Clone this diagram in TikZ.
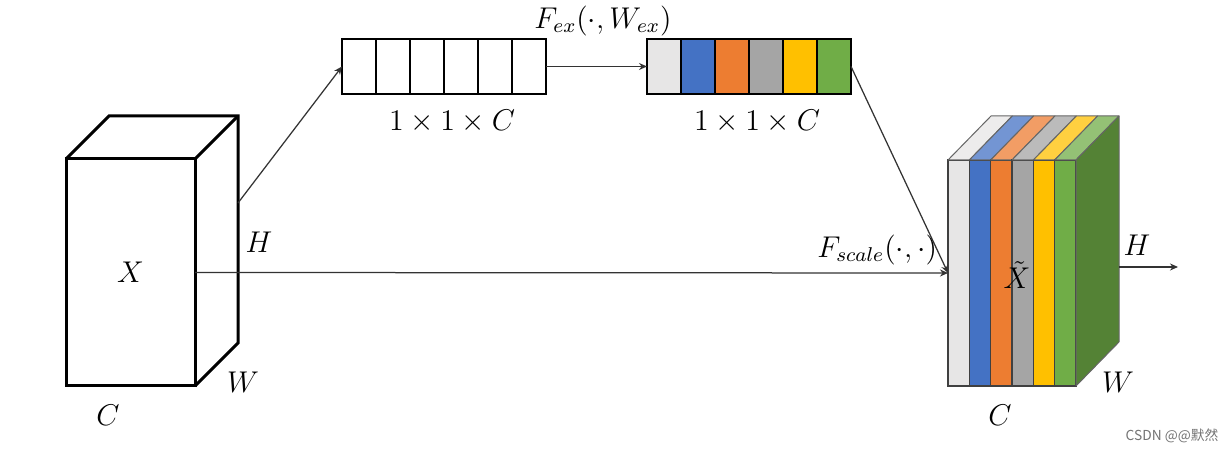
\documentclass[tikz,border=0pt]{standalone}
\usepackage{fontspec}
\newfontfamily\cjkfont{Noto Sans CJK SC}
\usepackage{tikz}
\usetikzlibrary{arrows.meta,positioning,calc}
\definecolor{chgray}{HTML}{E7E6E6}
\definecolor{chblue}{HTML}{4472C4}
\definecolor{chorange}{HTML}{ED7D31}
\definecolor{chdark}{HTML}{A5A5A5}
\definecolor{chgold}{HTML}{FFC000}
\definecolor{chgreen}{HTML}{70AD47}
\definecolor{chside}{HTML}{548235}
\tikzset{
  cube/.style={rectangle, draw=black, line width=1.2pt, outer sep=0pt,
    minimum width=51.6pt, minimum height=90.8pt, inner sep=0pt,
    font=\fontsize{12}{14}\selectfont},
  cell/.style={rectangle, draw=black, line width=1.1pt, outer sep=0pt,
    minimum width=13.6pt, minimum height=22pt, inner sep=0pt},
  strip/.style={rectangle, draw=black!75, line width=0.5pt, outer sep=0pt,
    minimum width=8.53pt, minimum height=90.4pt, inner sep=0pt},
  face/.style={draw=black!60, line width=0.4pt, line join=round},
  lbl/.style={font=\fontsize{12}{14}\selectfont, inner sep=1pt},
  flow/.style={-{Stealth[length=3.2pt, width=2.8pt]}, draw=black!80, line width=0.5pt},
}
\begin{document}
\begin{tikzpicture}[x=0.4pt, y=0.4pt]
  \useasboundingbox (0,0) rectangle (1230,451);
  \node[cube] (X) at (130.5,178.5) {$X$};
  \draw[line width=1.2pt] (X.north west) -- ++(43,43) -- ++(129,0) -- ++(0,-227) -- (X.south east);
  \draw[line width=1.2pt] (X.north east) -- ++(43,43);
  \node[lbl] (xh) at (259,209) {$H$};
  \node[lbl] (xw) at (243,69) {$W$};
  \node[lbl] (xc) at (108,36) {$C$};

  \foreach \i in {1,...,6}
    \node[cell] (e\i) at ({342+34*(\i-0.5)},384.5) {};
  \foreach \c [count=\i] in {chgray,chblue,chorange,chdark,chgold,chgreen}
    \node[cell, fill=\c] (s\i) at ({647+34*(\i-0.5)},384.5) {};
  \node[lbl] (eC) at (452,329) {$1\times1\times C$};
  \node[lbl] (sC) at (757,329) {$1\times1\times C$};
  \node[lbl] (fex) at (603,430) {$F_{ex}(\cdot,W_{ex})$};

  \foreach \c [count=\i] in {chgray,chblue,chorange,chdark,chgold,chgreen}{
    \node[strip, fill=\c] (t\i) at ({948+21.33*(\i-0.5)},178) {};
    \filldraw[face, fill=\c!75!white] (t\i.north west) -- ++(43,44) -- ++(21.33,0) -- (t\i.north east) -- cycle;
  }
  \filldraw[face, fill=chside] (t6.north east) -- ++(43,44) -- ++(0,-226) -- (t6.south east) -- cycle;
  \node[lbl] (xt) at (1017,176) {$\tilde{X}$};
  \node[lbl] (th) at (1137,206) {$H$};
  \node[lbl] (tw) at (1118,69) {$W$};
  \node[lbl] (tc) at (1000,36) {$C$};

  \coordinate (xside) at (238,248);
  \coordinate (tside) at (1119,184);
  \coordinate (hout) at (1178,184);
  \draw[flow] (xside) -- (e1.west);
  \draw[flow] (e6.east) -- (s1.west);
  \draw[flow] (s6.east) -- (t1.west);
  \draw[flow] (X.east) -- (t1.west);
  \draw[flow] (tside) -- (hout);
  \node[lbl, anchor=south east] (fsc) at (940,183) {$F_{scale}(\cdot,\cdot)$};

  \node[font=\cjkfont\fontsize{5.5}{6}\selectfont, text=black!55] (wm) at (1172,15) {CSDN @@默然};
\end{tikzpicture}
\end{document}
